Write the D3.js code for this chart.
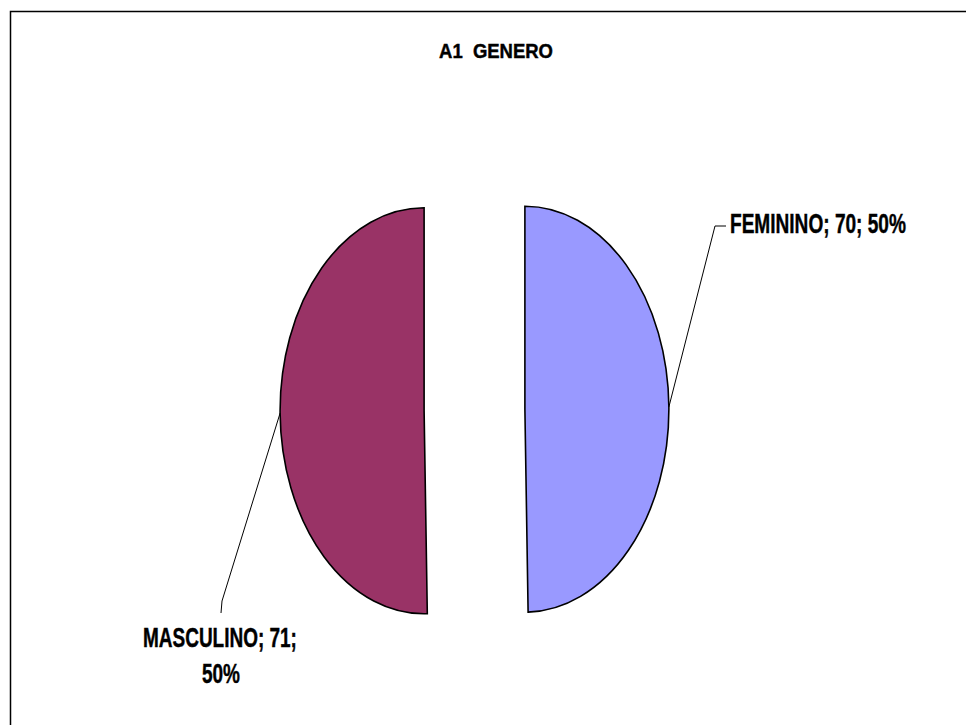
<!DOCTYPE html>
<html>
<head>
<meta charset="utf-8">
<script src="https://cdn.jsdelivr.net/npm/d3@7"></script>
<style>
  body { margin: 0; background: #fff; }
  svg { display: block; }
  text { white-space: pre; }
</style>
</head>
<body>
<svg width="966" height="725"></svg>
<script>
const categories = ["FEMININO", "MASCULINO"]
const values = [70, 71]
const colors = ["#9999FF", "#993366"]
const title = "A1  GENERO"

const svg = d3.select("svg")
const width = +svg.attr("width")
const height = +svg.attr("height")

const cx = 474.5
const cy = 410
const rx = 144
const ry = 203
const explode = 0.35
const total = d3.sum(values)

// chart border (runs off the right / bottom edge like the original)
svg.append("rect")
  .attr("x", 10.5)
  .attr("y", 11.5)
  .attr("width", 1000)
  .attr("height", 800)
  .attr("fill", "#fff")
  .attr("stroke", "#000")
  .attr("stroke-width", 1.5)

// the source picture is squeezed sideways, so text gets a horizontal scale to fit its width
function squeezedText(parent, str, x, y, anchor, size, targetW) {
  const t = parent.append("text")
    .attr("text-anchor", anchor)
    .attr("font-family", "Liberation Sans, Arial, sans-serif")
    .attr("font-weight", "bold")
    .attr("font-size", size)
    .attr("stroke", "#000")
    .attr("stroke-width", 0.45)
    .text(str)
  const w = t.node().getComputedTextLength()
  const sx = targetW / w
  t.attr("transform", `translate(${x},${y}) scale(${sx},1)`)
  return t
}

squeezedText(svg, title, 496, 58, "middle", 20.5, 114)

const data = categories.map((c, i) => ({ name: c, value: values[i], color: colors[i] }))

const pie = d3.pie().sort(null).value(d => d.value)
const arcs = pie(data)

const arc = d3.arc().innerRadius(0).outerRadius(100)

// the original pie is squashed horizontally, so draw it on a circle and scale
const offset = d => {
  const mid = (d.startAngle + d.endAngle) / 2
  return [explode * Math.sin(mid) * rx, -explode * Math.cos(mid) * ry]
}

const g = svg.append("g")

g.selectAll("path.slice")
  .data(arcs)
  .join("path")
  .attr("class", "slice")
  .attr("d", arc)
  .attr("fill", d => d.data.color)
  .attr("stroke", "#000")
  .attr("stroke-width", 1.6)
  .attr("vector-effect", "non-scaling-stroke")
  .attr("transform", d => {
    const [dx, dy] = offset(d)
    return `translate(${cx + dx},${cy + dy}) scale(${rx / 100},${ry / 100})`
  })

// point on the rim at the middle of each slice, where the leader line starts
const rimPoint = d => {
  const mid = (d.startAngle + d.endAngle) / 2
  const [dx, dy] = offset(d)
  return [cx + dx + Math.sin(mid) * rx, cy + dy - Math.cos(mid) * ry]
}

const pct = d => Math.round(d.value / total * 100) + "%"

// label layout: leader bends and text boxes as placed in the original
const labelLayout = [
  { bend: [[715, 226], [726, 226]], lines: [{ x: 730, y: 233, anchor: "start", len: 176 }] },
  { bend: [[222, 601], [221, 613]], lines: [
      { x: 220, y: 647, anchor: "middle", len: 154 },
      { x: 221, y: 683, anchor: "middle", len: 38 }
    ] }
]

const line = d3.line()

arcs.forEach((d, i) => {
  const lay = labelLayout[i]
  g.append("path")
    .attr("d", line([rimPoint(d), ...lay.bend]))
    .attr("fill", "none")
    .attr("stroke", "#000")
    .attr("stroke-width", 1)

  const full = `${d.data.name}; ${d.data.value}; ${pct(d.data)}`
  const texts = lay.lines.length === 1
    ? [full]
    : [`${d.data.name}; ${d.data.value};`, pct(d.data)]

  lay.lines.forEach((l, j) => {
    squeezedText(g, texts[j], l.x, l.y, l.anchor, 27.5, l.len)
  })
})
</script>
</body>
</html>
